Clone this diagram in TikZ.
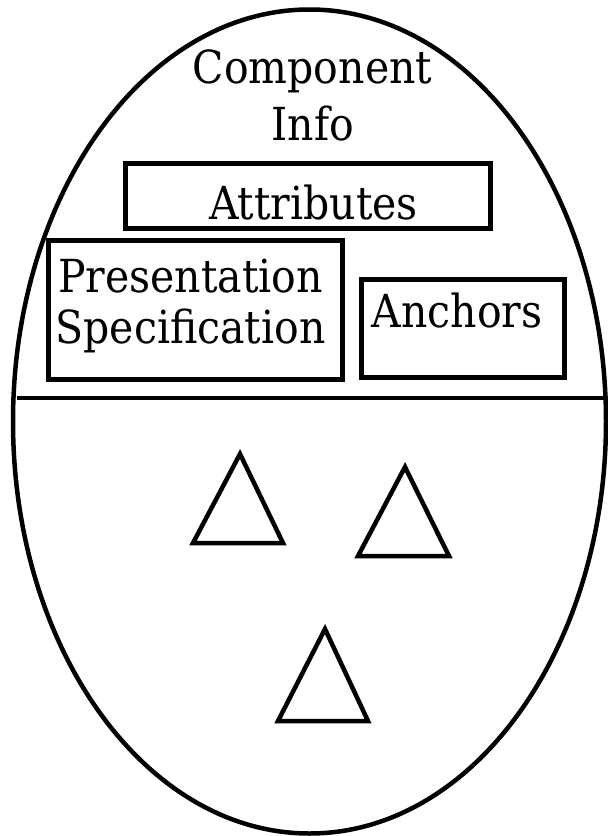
\documentclass[tikz,border=0pt]{standalone}
\usepackage{fontspec}
\newfontfamily\lblfont{DejaVu Serif Condensed}
\newlength\lblw
\begin{document}
\settowidth\lblw{\lblfont\fontsize{10}{12}\selectfont PresentationComponentAnchorsAttributes}
\pgfmathsetmacro\lblsize{10*883/\lblw}
\begin{tikzpicture}[x=1pt,y=-1pt,
  lbl/.style={inner sep=0pt,anchor=base,font=\lblfont\fontsize{\lblsize}{\lblsize}\selectfont},
  boxnode/.style={draw,line width=5pt,inner sep=0pt},
  tri/.style={draw,line width=4.5pt,line join=miter}]
\useasboundingbox (0,0) rectangle (608,836);
\node[draw=none,minimum width=0pt,inner sep=0pt] (ctr) at (309.5,421.5) {};
\draw[line width=4.5pt] (ctr.center) ellipse [x radius=296.5pt, y radius=412pt];
\coordinate (hlL) at (17,398);
\coordinate (hlR) at (608,398);
\draw[line width=4pt] (hlL) -- (hlR);
% boxes
\node[boxnode,minimum width=365pt,minimum height=65pt] (attrbox) at (307.5,195.5) {};
\node[boxnode,minimum width=294pt,minimum height=139pt] (presbox) at (195,309.5) {};
\node[boxnode,minimum width=203pt,minimum height=98pt] (anchbox) at (462.5,328) {};
% texts
\node[lbl] (comp) at (312.5,83) {Component};
\node[lbl] (info) at (313,140) {Info};
\node[lbl] (attr) at (313.5,219) {Attributes};
\node[lbl] (pres) at (190.5,292) {Presentation};
\node[lbl] (spec) at (190.5,343) {Specification};
\node[lbl] (anch) at (457,327) {Anchors};
% triangles
\coordinate (t1a) at (240,454); \coordinate (t1b) at (193,543); \coordinate (t1c) at (283,543);
\coordinate (t2a) at (405,467); \coordinate (t2b) at (358,556); \coordinate (t2c) at (449,556);
\coordinate (t3a) at (325,629); \coordinate (t3b) at (278,721); \coordinate (t3c) at (368,721);
\draw[tri] (t1a) -- (t1b) -- (t1c) -- cycle;
\draw[tri] (t2a) -- (t2b) -- (t2c) -- cycle;
\draw[tri] (t3a) -- (t3b) -- (t3c) -- cycle;
\end{tikzpicture}
\end{document}
